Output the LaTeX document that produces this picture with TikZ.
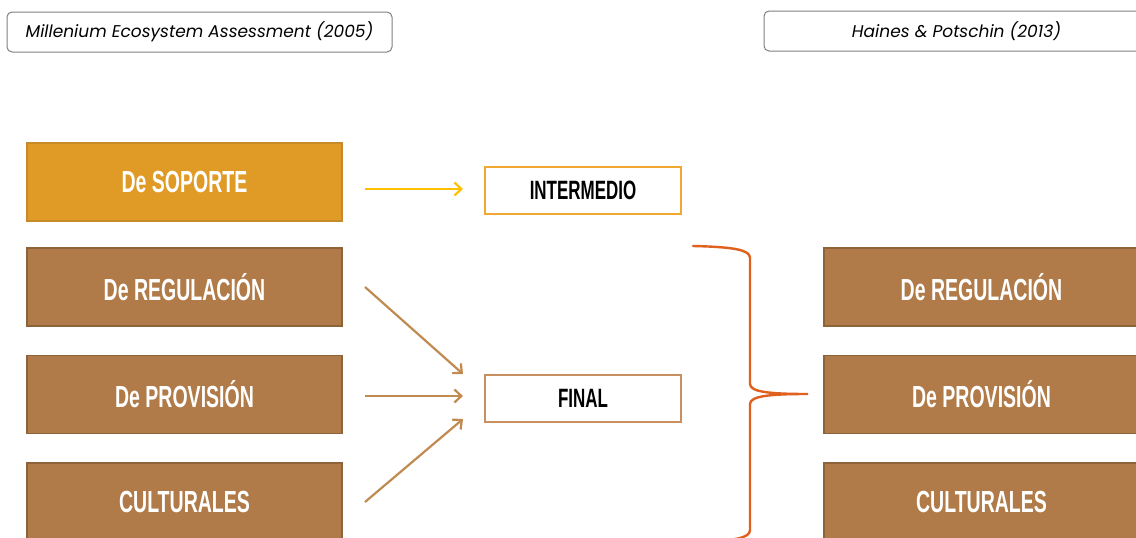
\documentclass[tikz,border=0pt]{standalone}
\usepackage{fontspec}
\setmainfont{Liberation Sans}
\newfontfamily\cond[FakeStretch=0.64]{Liberation Sans}
\newfontfamily\geo{Poppins}
\usetikzlibrary{arrows.meta}
\definecolor{soporte}{HTML}{E09A26}
\definecolor{soporteline}{HTML}{C58A2A}
\definecolor{brownfill}{HTML}{B07B48}
\definecolor{brownline}{HTML}{8E6339}
\definecolor{yarrow}{HTML}{FFC000}
\definecolor{barrow}{HTML}{C08A50}
\definecolor{ibox}{HTML}{F0A830}
\definecolor{fbox}{HTML}{C89060}
\definecolor{bracecol}{HTML}{E0601E}
\tikzset{
  x=1pt,y=-1pt,
  catbox/.style={draw=brownline,fill=brownfill,line width=1.2pt,minimum width=315pt,minimum height=78pt,inner sep=0pt,text=white,font=\cond\bfseries\fontsize{30.5}{31}\selectfont},
  supbox/.style={catbox,draw=soporteline,fill=soporte},
  outbox/.style={draw,fill=white,line width=1.2pt,minimum width=196pt,minimum height=47pt,inner sep=0pt,text=black,font=\cond\bfseries\fontsize{26.5}{27}\selectfont},
  srcbox/.style={draw=gray,rounded corners=5pt,line width=1pt,minimum width=385pt,minimum height=40pt,inner sep=0pt,font=\geo\itshape\fontsize{17}{18}\selectfont},
  flow/.style={line width=2.2pt,-{Straight Barb[length=7pt,width=13pt,line width=2.2pt]}},
}
\begin{document}
\begin{tikzpicture}
\useasboundingbox (0,0) rectangle (1136,538);
\clip (0,0) rectangle (1136,538);
\fill[white] (0,0) rectangle (1136,538);
% source labels
\node[srcbox] (mea) at (199.5,32) {Millenium Ecosystem Assessment (2005)};
\node[srcbox] (hp) at (956.5,31) {Haines \& Potschin (2013)};
% left column
\node[supbox] (sop) at (184.5,182) {De SOPORTE};
\node[catbox] (reg) at (184.5,287) {De REGULACIÓN};
\node[catbox] (pro) at (184.5,394.5) {De PROVISIÓN};
\node[catbox] (cul) at (184.5,502) {CULTURALES};
% middle
\node[outbox,draw=ibox] (int) at (583,190.5) {INTERMEDIO};
\node[outbox,draw=fbox] (fin) at (583,398.5) {FINAL};
% right column
\node[catbox] (rreg) at (981.5,287) {De REGULACIÓN};
\node[catbox] (rpro) at (981.5,394.5) {De PROVISIÓN};
\node[catbox] (rcul) at (981.5,502) {CULTURALES};
% arrow coordinates
\coordinate (a1s) at (365,189);
\coordinate (a1e) at (463,189);
\coordinate (a2s) at (365,287);
\coordinate (a2e) at (463,374);
\coordinate (a3s) at (365,396);
\coordinate (a3e) at (463,396);
\coordinate (a4s) at (365,502);
\coordinate (a4e) at (463,419);
\draw[flow,yarrow] (a1s) -- (a1e);
\draw[flow,barrow] (a2s) -- (a2e);
\draw[flow,barrow] (a3s) -- (a3e);
\draw[flow,barrow] (a4s) -- (a4e);
% brace
\coordinate (btop) at (693,246);
\coordinate (btip) at (808,394);
\coordinate (bbot) at (693,542);
\draw[bracecol,line width=2.4pt,line cap=round]
  (btop) .. controls (735,247) and (750,250) .. (750,258)
  -- (750,384) .. controls (750,392) and (770,394) .. (btip)
  .. controls (770,394) and (750,396) .. (750,404)
  -- (750,530) .. controls (750,538) and (735,541) .. (bbot);
\end{tikzpicture}
\end{document}
